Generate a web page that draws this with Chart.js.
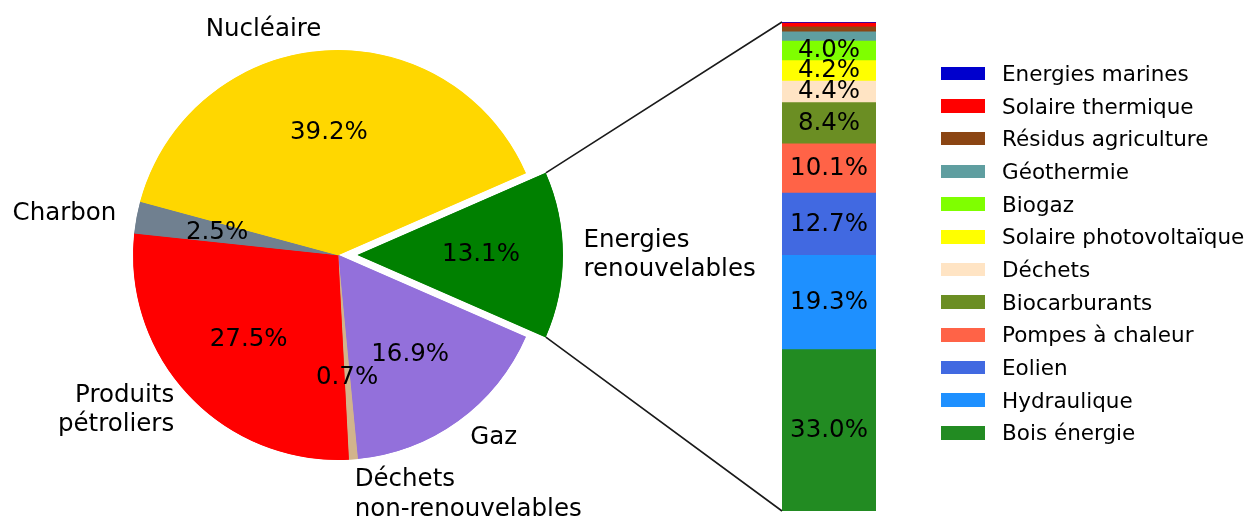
<!DOCTYPE html>
<html lang="fr">
<head>
<meta charset="UTF-8">
<title>Energie primaire par source</title>
<script src="https://cdn.jsdelivr.net/npm/chart.js"></script>
<style>
  html, body { margin: 0; padding: 0; background: #fff; }
  #wrap { position: relative; width: 1250px; height: 519px; overflow: hidden; font-family: 'DejaVu Sans', sans-serif; }
  #wrap canvas { position: absolute; left: 0; top: 0; }
  #legend { position: absolute; left: 941px; top: 57px; margin: 0; padding: 0; list-style: none; }
  #legend li { height: 32.7px; display: flex; align-items: center; font-size: 21.5px; color: #000; white-space: nowrap; }
  #legend .box { width: 44px; height: 13.5px; margin-right: 17px; flex: none; }
</style>
</head>
<body>
<div id="wrap">
  <canvas id="pie" width="1250" height="519"></canvas>
  <canvas id="pieOut" width="1250" height="519"></canvas>
  <canvas id="bar" width="1250" height="519"></canvas>
  <ul id="legend"></ul>
</div>

<script>
// pie slices, in clockwise order starting with the exploded one
const sourceLabels = ['Energies\nrenouvelables', 'Gaz', '\nDéchets\nnon-renouvelables', 'Produits\npétroliers', 'Charbon', 'Nucléaire'];
const sourceValues = [13.1, 16.9, 0.7, 27.5, 2.5, 39.2];
const sourceColors = ['#008000', '#9370DB', '#D2B48C', '#FF0000', '#708090', '#FFD700'];

// renewables breakdown, bottom of the bar first
const renewLabels = ['Bois énergie', 'Hydraulique', 'Eolien', 'Pompes à chaleur', 'Biocarburants', 'Déchets',
                     'Solaire photovoltaïque', 'Biogaz', 'Géothermie', 'Résidus agriculture', 'Solaire thermique', 'Energies marines'];
const renewValues = [33.0, 19.3, 12.7, 10.1, 8.4, 4.4, 4.2, 4.0, 1.9, 1.0, 0.8, 0.2];
const renewColors = ['#228B22', '#1E90FF', '#4169E1', '#FF6347', '#6B8E23', '#FFE4C4',
                     '#FFFF00', '#7FFF00', '#5F9EA0', '#8B4513', '#FF0000', '#0000CD'];

const FONT = '24.5px "DejaVu Sans"';
const LINE_H = 29.4;
const R = 205;
const EXPLODE = 20;

// labels for the slices a pie canvas shows
function pieTextPlugin(shown) {
    return {
        id: 'pieText',
        afterDatasetsDraw(chart) {
            const ctx = chart.ctx;
            const meta = chart.getDatasetMeta(0);
            ctx.save();
            ctx.font = FONT;
            ctx.fillStyle = '#000';
            ctx.textBaseline = 'middle';
            meta.data.forEach((arc, i) => {
                if (!shown(i)) return;
                const mid = (arc.startAngle + arc.endAngle) / 2;
                const pct = sourceValues[i] / meta.total * 100;
                ctx.textAlign = 'center';
                ctx.fillText(pct.toFixed(1) + '%', arc.x + Math.cos(mid) * R * 0.6, arc.y + Math.sin(mid) * R * 0.6);

                const lines = sourceLabels[i].split('\n');
                const lx = arc.x + Math.cos(mid) * R * 1.1;
                const ly = arc.y + Math.sin(mid) * R * 1.1;
                ctx.textAlign = Math.cos(mid) > 0 ? 'left' : 'right';
                lines.forEach((line, k) => {
                    ctx.fillText(line, lx, ly + (k - (lines.length - 1) / 2) * LINE_H);
                });
            });
            ctx.restore();
        }
    };
}

function makePie(id, shown, shiftX) {
    const colors = sourceColors.map((c, i) => shown(i) ? c : 'rgba(0,0,0,0)');
    return new Chart(document.getElementById(id), {
        type: 'pie',
        data: {
            labels: sourceLabels,
            datasets: [{
                data: sourceValues,
                backgroundColor: colors,
                borderColor: colors,
                borderWidth: 1,
                borderAlign: 'inner'
            }]
        },
        options: {
            responsive: false,
            animation: false,
            events: [],
            radius: R,
            rotation: 66.4,
            // chart area centred on (338 + shiftX, 255)
            layout: { padding: { left: shiftX, right: 574 - shiftX, top: 0, bottom: 9 } },
            plugins: { legend: { display: false }, tooltip: { enabled: false } }
        },
        plugins: [pieTextPlugin(shown)]
    });
}

// main pie, then the renewables slice pulled out to the right
const pieChart = makePie('pie', i => i !== 0, 0);
const pieOut = makePie('pieOut', i => i === 0, EXPLODE);

const barText = {
    id: 'barText',
    afterDatasetsDraw(chart) {
        const ctx = chart.ctx;
        ctx.save();
        ctx.font = FONT;
        ctx.fillStyle = '#000';
        ctx.textAlign = 'center';
        ctx.textBaseline = 'middle';
        chart.data.datasets.forEach((ds, i) => {
            const v = ds.data[0];
            if (v < 3) return;
            const bar = chart.getDatasetMeta(i).data[0];
            ctx.fillText(v.toFixed(1) + '%', bar.x, (bar.y + bar.base) / 2);
        });

        // lines from the exploded slice to the bar corners
        const arc = pieOut.getDatasetMeta(0).data[0];
        const first = chart.getDatasetMeta(0).data[0];
        const last = chart.getDatasetMeta(chart.data.datasets.length - 1).data[0];
        const left = first.x - first.width / 2;
        ctx.strokeStyle = '#1a1a1a';
        ctx.lineWidth = 1.6;
        ctx.beginPath();
        ctx.moveTo(arc.x + Math.cos(arc.startAngle) * R, arc.y + Math.sin(arc.startAngle) * R);
        ctx.lineTo(left, last.y);
        ctx.moveTo(arc.x + Math.cos(arc.endAngle) * R, arc.y + Math.sin(arc.endAngle) * R);
        ctx.lineTo(left, first.base);
        ctx.stroke();
        ctx.restore();
    }
};

const barChart = new Chart(document.getElementById('bar'), {
    type: 'bar',
    data: {
        labels: [''],
        datasets: renewLabels.map((label, i) => ({
            label: label,
            data: [renewValues[i]],
            backgroundColor: renewColors[i],
            borderWidth: 0,
            barPercentage: 1,
            categoryPercentage: 1
        }))
    },
    options: {
        responsive: false,
        animation: false,
        events: [],
        layout: { padding: { left: 782, right: 374, top: 22, bottom: 8 } },
        scales: {
            x: { display: false, stacked: true },
            y: { display: false, stacked: true, min: 0, max: renewValues.reduce((a, b) => a + b, 0) }
        },
        plugins: { legend: { display: false }, tooltip: { enabled: false } }
    },
    plugins: [barText]
});

// legend, top entry = top of the bar
const legend = document.getElementById('legend');
for (let i = renewLabels.length - 1; i >= 0; i--) {
    const li = document.createElement('li');
    const box = document.createElement('span');
    box.className = 'box';
    box.style.background = renewColors[i];
    li.appendChild(box);
    li.appendChild(document.createTextNode(renewLabels[i]));
    legend.appendChild(li);
}
</script>
</body>
</html>
